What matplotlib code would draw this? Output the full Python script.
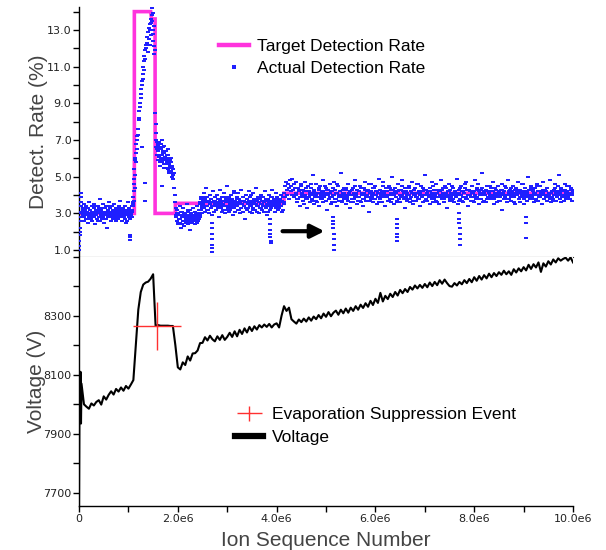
import numpy as np
import matplotlib
matplotlib.use('Agg')
import matplotlib.pyplot as plt
from matplotlib.lines import Line2D
from matplotlib.path import Path
from matplotlib.ticker import MultipleLocator, FuncFormatter

# ion sequence number in units of 1e6
# target detection rate (step line)
target_x = [0.0, 1.12, 1.12, 1.45, 1.47, 1.54, 1.54, 1.95, 1.95, 4.15, 4.15, 10.0]
target_y = [3.0, 3.0, 14.0, 14.0, 13.6, 13.6, 3.0, 3.0, 3.55, 3.55, 4.1, 4.1]

# actual detection rate, band segments: (x range, values)
start_rng = (0.0, 0.05)
start_rate = [1.0, 1.2, 1.5, 1.8, 2.0, 2.2, 2.6, 3.1, 3.9, 4.1, 3.4, 2.8, 3.6, 3.0]

base_rng = (0.06, 1.08)
base_rate = [3.1, 2.8, 3.3, 2.9, 3.5, 2.6, 3.0, 3.2, 2.7, 3.4,
             2.9, 3.1, 2.5, 3.3, 3.0, 2.8, 3.6, 2.9, 3.2, 2.7,
             3.0, 3.4, 2.6, 3.1, 2.9, 3.3, 2.8, 3.5, 3.0, 2.4,
             3.2, 2.9, 3.1, 2.7, 3.4, 3.0, 2.8, 3.3, 2.6, 3.1,
             3.8, 2.9, 3.2, 2.7, 3.0, 3.5, 2.8, 3.1, 2.5, 3.3,
             3.0, 2.9, 3.4, 2.7, 3.1, 2.2, 3.2, 2.8, 3.0, 3.6,
             2.9, 3.3, 2.6, 3.1, 2.8, 3.4, 3.0, 2.7, 3.2, 2.9,
             3.5, 2.8, 3.1, 2.6, 3.3, 3.0, 2.9, 3.2, 2.7, 3.4,
             3.0, 2.8, 3.1, 3.7, 2.9, 3.2, 2.6, 3.0, 3.3, 2.8,
             3.1, 2.9, 3.4, 2.7, 3.0, 3.2, 2.5, 3.1, 2.9, 3.6,
             3.0, 2.8, 3.3, 3.1, 2.7, 3.2, 3.0, 2.9, 3.4, 3.1]
base_rate_b = [3.0, 3.2, 2.8, 3.1, 2.9, 3.3, 2.7, 3.0, 3.2, 2.9,
               3.1, 2.8, 3.4, 3.0, 2.9, 3.2, 2.6, 3.1, 3.0, 2.8,
               3.3, 2.9, 3.1, 2.7, 3.0, 3.2, 2.9, 3.4, 2.8, 3.1,
               3.0, 2.7, 3.2, 2.9, 3.1, 3.0, 2.8, 3.3, 2.9, 3.0,
               3.2, 2.8, 3.0, 3.1, 2.6, 3.2, 2.9, 3.0, 3.1, 2.8]

rise_x = [1.08, 1.09, 1.09, 1.10, 1.10, 1.11, 1.11, 1.12, 1.12, 1.12, 1.13, 1.13, 1.13, 1.14,
          1.15, 1.15, 1.16, 1.17, 1.18, 1.18, 1.19, 1.20, 1.21, 1.22, 1.22, 1.23, 1.24, 1.25,
          1.26, 1.26, 1.27, 1.28, 1.29, 1.29, 1.30, 1.31, 1.31, 1.32, 1.34, 1.34, 1.35, 1.36,
          1.37, 1.38, 1.39, 1.40, 1.41, 1.42, 1.43, 1.44, 1.45, 1.46, 1.47, 1.47, 1.48, 1.49,
          1.50, 1.51, 1.52, 1.52, 1.33, 1.33, 1.27, 1.44, 1.46, 1.49, 1.50, 1.53]
rise_rate = [3.2, 3.6, 3.4, 3.9, 3.5, 4.2, 3.7, 4.6, 4.9, 5.4, 5.9, 4.4, 5.1, 6.0,
             6.3, 5.8, 6.8, 6.5, 7.2, 7.0, 7.6, 7.3, 8.1, 8.6, 8.2, 9.0, 8.8, 9.5,
             9.8, 9.3, 10.2, 10.0, 10.6, 10.3, 11.0, 11.3, 10.8, 11.6, 11.9, 11.4, 12.2, 12.0,
             12.6, 12.3, 11.8, 12.9, 13.1, 12.5, 13.3, 13.0, 13.6, 13.4, 13.8, 14.2, 13.5, 13.9,
             12.8, 13.2, 12.1, 11.7, 4.65, 3.7, 6.6, 12.2, 12.7, 13.0, 12.4, 11.9]

decay_x = [1.54, 1.55, 1.55, 1.56, 1.56, 1.57, 1.58, 1.59, 1.60, 1.61, 1.62, 1.63, 1.64, 1.65,
           1.66, 1.67, 1.68, 1.69, 1.70, 1.71, 1.72, 1.73, 1.74, 1.75, 1.76, 1.77, 1.78, 1.79,
           1.80, 1.81, 1.82, 1.83, 1.84, 1.85, 1.86, 1.87, 1.88, 1.89, 1.90, 1.91, 1.92, 1.93,
           1.94, 1.95, 1.96, 1.67]
decay_rate = [8.5, 7.9, 7.4, 7.0, 6.6, 6.9, 6.2, 6.7, 6.4, 6.9, 6.1, 6.6, 5.8, 6.5,
              6.8, 6.2, 5.9, 6.4, 6.0, 6.6, 5.7, 6.3, 5.9, 6.1, 5.5, 6.4, 5.8, 6.0,
              5.4, 6.2, 5.7, 5.2, 5.9, 5.5, 6.0, 5.3, 5.6, 5.0, 5.4, 4.9, 5.2, 4.4,
              4.0, 3.6, 3.3, 4.5]
decay_rng_b = (1.58, 1.90)
decay_rate_b = [6.5, 5.9, 6.8, 6.2, 5.6, 6.6, 6.0, 7.0, 5.8, 6.3,
                6.7, 5.5, 6.1, 6.4, 5.7, 6.2, 5.9, 6.5, 5.3, 6.0,
                5.6, 5.8, 5.2, 5.5, 5.1]

low_rng = (1.97, 2.45)
low_rate = [2.9, 2.6, 3.2, 2.4, 3.0, 2.7, 3.4, 2.5, 2.9, 2.2,
            3.1, 2.8, 2.6, 3.3, 2.3, 2.9, 3.0, 2.5, 2.7, 3.5,
            2.8, 2.4, 3.1, 2.6, 2.9, 2.1, 3.2, 2.7, 3.0, 2.5,
            2.8, 3.3, 2.6, 2.9, 2.4, 3.1, 2.7, 3.0, 2.5, 3.4,
            2.9, 2.6, 3.2, 2.8, 3.0]
low_rate_b = [2.8, 3.0, 2.5, 2.9, 2.7, 3.1, 2.4, 2.8, 3.0, 2.6,
              2.9, 2.7, 3.2, 2.5, 2.8, 3.0, 2.6, 2.9, 2.7, 3.1,
              2.8, 2.5, 3.0, 2.7, 2.9]

mid_rng = (2.45, 4.15)
mid_rate = [3.6, 3.2, 3.9, 3.4, 3.0, 3.7, 3.5, 4.1, 3.3, 3.8,
            3.1, 3.6, 4.4, 3.4, 3.9, 3.2, 3.7, 3.0, 3.5, 4.0,
            3.3, 3.8, 3.6, 2.9, 3.4, 4.2, 3.7, 3.1, 3.5, 3.9,
            3.2, 3.6, 4.0, 3.4, 3.8, 2.8, 3.5, 3.7, 4.3, 3.3,
            3.6, 3.1, 3.9, 3.5, 3.2, 4.1, 3.7, 3.4, 3.0, 3.8,
            3.6, 4.5, 3.3, 3.7, 3.1, 3.9, 3.5, 3.2, 4.0, 3.6,
            3.4, 3.8, 2.9, 3.5, 4.2, 3.3, 3.7, 3.1, 3.6, 3.9,
            3.4, 3.2, 4.1, 3.5, 3.8, 3.0, 3.6, 3.3, 4.3, 3.7,
            3.5, 3.1, 3.9, 3.4, 3.7, 2.7, 3.6, 4.0, 3.2, 3.8,
            3.5, 3.3, 4.2, 3.6, 3.1, 3.9, 3.4, 3.7, 3.0, 3.5,
            4.1, 3.3, 3.8, 3.6, 3.2, 4.4, 3.5, 3.7, 3.1, 3.9,
            3.4, 3.6, 3.0, 3.8, 3.3, 4.0, 3.5, 3.2, 3.7, 3.4,
            3.9, 3.1, 3.6, 4.2, 3.3, 3.7, 3.5, 2.9, 3.8, 3.4,
            3.6, 4.0, 3.2, 3.5, 3.9, 3.3, 3.7, 4.3, 3.4, 3.6,
            3.8, 3.1, 3.5, 4.1, 3.4, 3.9, 3.6, 3.2, 3.7, 3.5,
            3.3, 3.8, 3.6, 4.0, 3.4, 3.7, 3.1, 3.9, 3.5, 3.6]
mid_rate_b = [3.5, 3.8, 3.3, 3.6, 3.9, 3.4, 3.7, 3.2, 3.6, 3.5,
              3.8, 3.4, 3.6, 3.1, 3.7, 3.5, 4.0, 3.3, 3.6, 3.8,
              3.4, 3.7, 3.5, 3.9, 3.2, 3.6, 3.4, 3.8, 3.5, 3.7,
              3.3, 3.6, 4.1, 3.5, 3.4, 3.8, 3.6, 3.2, 3.7, 3.5,
              3.9, 3.4, 3.6, 3.3, 3.8, 3.5, 3.7, 3.4, 4.0, 3.6,
              3.2, 3.7, 3.5, 3.8, 3.4, 3.6, 3.9, 3.3, 3.5, 3.7,
              3.6, 3.4, 3.8, 3.5, 3.1, 3.7, 3.6, 3.4, 3.9, 3.5,
              3.7, 3.3, 3.6, 3.8, 3.5, 3.4, 3.7, 3.6, 3.2, 3.5]

bump_rng = (4.15, 4.40)
bump_rate = [4.1, 4.5, 3.9, 4.7, 4.3, 4.0, 4.6, 4.4, 3.8, 4.8,
             4.2, 4.5, 4.0, 4.9, 4.3, 4.6, 3.9, 4.4, 4.7, 4.1]

high_rng = (4.40, 10.0)
high_rate = [4.0, 3.6, 4.4, 3.8, 4.2, 3.4, 4.6, 3.9, 4.1, 3.7,
             4.3, 3.5, 4.0, 4.7, 3.8, 4.2, 3.3, 4.5, 3.9, 4.1,
             3.6, 4.4, 4.0, 3.8, 5.1, 4.2, 3.5, 4.0, 4.6, 3.7,
             4.1, 3.9, 4.3, 3.4, 4.5, 3.8, 4.0, 4.2, 3.6, 4.8,
             3.9, 4.1, 3.7, 4.4, 3.2, 4.0, 4.3, 3.8, 4.6, 4.1,
             3.5, 4.2, 3.9, 4.0, 4.7, 3.6, 4.3, 3.8, 4.1, 3.4,
             4.5, 4.0, 3.7, 4.2, 3.9, 5.2, 3.6, 4.1, 4.4, 3.8,
             4.0, 3.5, 4.3, 3.9, 4.6, 3.7, 4.1, 3.3, 4.2, 4.0,
             3.8, 4.4, 3.6, 4.1, 4.8, 3.9, 4.0, 3.5, 4.3, 3.7,
             4.2, 3.9, 4.5, 3.6, 4.0, 4.1, 3.4, 4.4, 3.8, 4.7,
             4.0, 3.7, 4.2, 3.9, 4.3, 3.1, 4.1, 4.6, 3.8, 4.0,
             3.6, 4.4, 4.0, 3.8, 4.5, 4.2, 3.5, 4.1, 3.9, 4.9,
             4.3, 3.8, 4.0, 3.6, 4.2, 4.7, 3.9, 4.1, 3.4, 4.4,
             3.9, 4.2, 3.7, 4.5, 4.0, 3.8, 4.3, 3.6, 5.0, 4.1,
             4.0, 3.5, 4.4, 3.9, 4.1, 3.7, 4.6, 4.2, 3.8, 4.0,
             3.6, 4.3, 4.0, 4.8, 3.9, 4.1, 3.3, 4.4, 4.2, 3.7,
             4.1, 3.8, 4.5, 4.0, 3.6, 4.2, 3.9, 4.7, 3.5, 4.3,
             4.0, 4.4, 3.7, 4.1, 3.9, 4.6, 3.8, 4.2, 4.0, 3.4,
             4.5, 3.9, 4.2, 3.6, 4.3, 4.0, 5.1, 3.8, 4.1, 3.7,
             4.2, 4.0, 3.5, 4.4, 3.9, 4.1, 4.7, 3.6, 4.3, 3.8,
             4.0, 3.7, 4.6, 4.1, 3.9, 4.3, 3.5, 4.2, 4.0, 4.8,
             3.8, 4.4, 4.0, 3.6, 4.5, 3.9, 4.1, 3.3, 4.2, 4.0,
             4.6, 3.8, 4.3, 3.9, 4.0, 3.7, 4.4, 4.1, 3.6, 4.2,
             3.9, 4.9, 4.0, 3.5, 4.3, 4.1, 3.8, 4.5, 4.0, 3.7,
             4.2, 3.6, 4.1, 4.4, 3.9, 4.7, 3.8, 4.0, 3.4, 4.3,
             4.0, 4.2, 3.7, 4.5, 3.9, 4.1, 3.6, 4.8, 4.0, 3.8,
             4.3, 3.9, 4.6, 3.5, 4.2, 4.0, 3.8, 4.4, 5.2, 4.1,
             3.7, 4.1, 4.0, 4.3, 3.6, 4.5, 3.9, 4.2, 3.8, 4.0,
             4.4, 3.8, 4.2, 3.9, 4.7, 3.5, 4.1, 4.0, 4.3, 3.6,
             4.0, 4.5, 3.7, 4.1, 3.9, 4.3, 3.2, 4.6, 4.0, 3.8,
             4.2, 3.9, 4.4, 4.0, 3.6, 4.8, 4.1, 3.8, 4.3, 3.9,
             3.7, 4.2, 4.0, 4.5, 3.9, 4.1, 3.5, 4.4, 4.0, 4.7,
             4.1, 3.8, 4.3, 3.6, 4.2, 4.0, 4.6, 3.9, 4.1, 3.5,
             4.4, 4.0, 3.7, 4.2, 5.0, 3.9, 4.3, 3.8, 4.5, 4.0,
             3.9, 4.3, 4.1, 3.6, 4.4, 4.0, 3.8, 4.6, 4.2, 3.7,
             4.0, 4.5, 3.9, 4.2, 3.5, 4.7, 4.1, 3.8, 4.3, 4.0,
             4.2, 3.7, 4.4, 4.0, 3.9, 4.1, 4.8, 3.6, 4.2, 3.9,
             3.8, 4.3, 4.0, 4.6, 3.7, 4.2, 3.9, 4.5, 4.0, 5.1,
             4.1, 3.6, 4.4, 3.9, 4.2, 4.0, 3.7, 4.3, 4.6, 3.8,
             4.0, 4.2, 3.9, 4.5, 3.8, 4.1, 4.4, 3.7, 4.3, 4.0]
high_rate_b = [4.1, 3.8, 4.3, 3.9, 4.5, 4.0, 3.7, 4.2, 3.9, 4.4,
               3.8, 4.2, 4.0, 4.6, 3.7, 4.1, 4.3, 3.9, 4.0, 3.6,
               4.4, 3.9, 4.1, 3.8, 4.2, 4.0, 4.5, 3.7, 4.3, 4.1,
               3.9, 4.2, 3.6, 4.4, 4.0, 3.8, 4.1, 4.6, 3.9, 4.2,
               4.0, 3.7, 4.3, 4.1, 3.9, 4.4, 3.8, 4.0, 4.2, 3.6,
               4.3, 4.0, 3.8, 4.5, 4.1, 3.9, 4.2, 3.7, 4.4, 4.0,
               3.8, 4.1, 4.3, 3.9, 4.0, 4.6, 3.7, 4.2, 3.9, 4.1,
               4.4, 3.8, 4.0, 4.2, 3.6, 4.3, 4.1, 3.9, 4.5, 4.0,
               3.9, 4.2, 4.0, 3.7, 4.4, 4.1, 3.8, 4.3, 4.0, 4.2,
               4.1, 3.6, 4.3, 4.0, 3.9, 4.5, 4.2, 3.8, 4.1, 3.9,
               4.0, 4.4, 3.8, 4.2, 4.1, 3.7, 4.3, 4.0, 3.9, 4.6,
               3.8, 4.1, 4.2, 3.9, 4.4, 4.0, 3.7, 4.3, 4.1, 3.9,
               4.2, 4.0, 3.8, 4.5, 3.9, 4.1, 4.3, 3.6, 4.2, 4.0,
               3.9, 4.3, 4.1, 3.8, 4.0, 4.4, 3.9, 4.2, 3.7, 4.1,
               4.5, 3.8, 4.0, 4.2, 3.9, 4.1, 3.7, 4.4, 4.0, 4.2,
               3.9, 4.1, 4.6, 3.8, 4.3, 4.0, 4.2, 3.9, 4.1, 3.7,
               4.2, 4.0, 3.9, 4.4, 3.8, 4.1, 4.3, 4.0, 3.6, 4.2,
               4.0, 4.3, 3.8, 4.1, 4.5, 3.9, 4.0, 4.2, 3.8, 4.4,
               4.1, 3.9, 4.2, 3.7, 4.0, 4.3, 4.1, 3.8, 4.5, 4.0,
               3.8, 4.2, 4.0, 4.4, 3.9, 4.1, 3.6, 4.3, 4.0, 4.2,
               4.3, 3.9, 4.1, 4.0, 4.6, 3.8, 4.2, 3.9, 4.1, 4.0,
               3.9, 4.4, 3.8, 4.2, 4.0, 4.1, 3.7, 4.5, 3.9, 4.2,
               4.1, 4.0, 4.3, 3.8, 4.2, 3.9, 4.4, 4.0, 3.8, 4.1,
               4.2, 3.7, 4.0, 4.4, 4.1, 3.9, 4.2, 3.8, 4.3, 4.0,
               4.0, 4.2, 3.9, 4.1, 4.5, 3.8, 4.0, 4.3, 4.1, 4.2]

# short dropouts of the detection rate
dip_x = [1.03, 1.03, 1.035,
         2.69, 2.69, 2.69, 2.695, 2.695, 2.70, 2.70,
         3.86, 3.86, 3.87, 3.87, 3.87, 3.88, 3.88,
         5.15, 5.15, 5.15, 5.15, 5.16, 5.16, 5.16, 5.16,
         6.43, 6.43, 6.43, 6.44, 6.44, 6.44,
         7.70, 7.70, 7.70, 7.71, 7.71, 7.71, 7.72,
         9.05, 9.05, 9.05]
dip_rate = [1.55, 1.7, 1.85,
            2.5, 2.2, 1.9, 1.6, 1.3, 1.1, 0.9,
            2.7, 2.4, 2.1, 1.9, 1.7, 1.5, 1.4,
            2.8, 2.6, 2.4, 2.2, 1.9, 1.6, 1.3, 1.0,
            2.7, 2.4, 2.2, 1.9, 1.7, 1.5,
            3.0, 2.7, 2.5, 2.2, 1.9, 1.6, 1.3,
            2.8, 2.5, 1.65]

# voltage
volt_start_x = [0.0, 0.005, 0.01, 0.02, 0.03, 0.04, 0.05]
volt_start = [7660, 7900, 8040, 7960, 8110, 7935, 8070]
volt_rng = (0.10, 10.0)
volt = [8000, 7992, 7985, 8003, 7996, 8008, 8014, 7999, 8027, 8016,
        8032, 8044, 8033, 8052, 8043, 8057, 8046, 8062, 8053, 8067,
        8082, 8200, 8320, 8380, 8405, 8412, 8415, 8425, 8440, 8265,
        8268, 8266, 8266, 8266, 8266, 8265, 8265, 8200, 8125, 8118,
        8142, 8133, 8162, 8148, 8172, 8173, 8182, 8207, 8208, 8227,
        8216, 8232, 8220, 8213, 8230, 8218, 8234, 8218, 8228, 8242,
        8228, 8247, 8230, 8252, 8238, 8257, 8243, 8262, 8248, 8264,
        8253, 8268, 8260, 8270, 8262, 8272, 8260, 8270, 8274, 8260,
        8300, 8332, 8316, 8327, 8288, 8280, 8273, 8287, 8278, 8290,
        8280, 8294, 8283, 8297, 8288, 8302, 8291, 8307, 8296, 8312,
        8298, 8310, 8317, 8303, 8320, 8308, 8324, 8310, 8327, 8316,
        8332, 8320, 8337, 8326, 8342, 8330, 8350, 8336, 8357, 8343,
        8377, 8348, 8367, 8356, 8374, 8363, 8380, 8368, 8387, 8376,
        8390, 8380, 8397, 8388, 8402, 8392, 8404, 8394, 8407, 8396,
        8412, 8400, 8414, 8403, 8420, 8408, 8422, 8410, 8400, 8398,
        8410, 8402, 8414, 8406, 8420, 8410, 8424, 8413, 8430, 8418,
        8434, 8422, 8437, 8426, 8442, 8430, 8444, 8434, 8447, 8438,
        8452, 8440, 8450, 8438, 8457, 8446, 8460, 8450, 8464, 8453,
        8472, 8458, 8474, 8463, 8480, 8448, 8477, 8466, 8484, 8473,
        8490, 8480, 8494, 8486, 8492, 8496, 8486, 8497, 8480]

event_x = [1.57]
event_v = [8264]

# build the scatter series
rate_x = []
rate_y = []
for rng, vals in [(start_rng, start_rate), (base_rng, base_rate), (base_rng, base_rate_b),
                  (low_rng, low_rate), (low_rng, low_rate_b), (mid_rng, mid_rate),
                  (mid_rng, mid_rate_b), (bump_rng, bump_rate), (high_rng, high_rate),
                  (high_rng, high_rate_b), (decay_rng_b, decay_rate_b)]:
    rate_x.extend(np.linspace(rng[0], rng[1], len(vals)))
    rate_y.extend(vals)
rate_x += rise_x + decay_x + dip_x
rate_y += rise_rate + decay_rate + dip_rate

volt_x = list(volt_start_x) + list(np.linspace(volt_rng[0], volt_rng[1], len(volt)))
volt_y = list(volt_start) + volt

blue = '#1f1fff'
pink = '#ff33dd'
label_font = 'Liberation Sans'
dash = Path([(-1, -0.6), (1, -0.6), (1, 0.6), (-1, 0.6), (-1, -0.6)])

fig = plt.figure(figsize=(6.06, 5.5), dpi=100)
ax1 = fig.add_axes([0.1304, 0.5336, 0.8152, 0.4536])
ax2 = fig.add_axes([0.1304, 0.08, 0.8152, 0.4536])

# top: detection rate
ax1.plot(target_x, target_y, color=pink, lw=2.6, zorder=2, solid_joinstyle='miter')
ax1.plot(rate_x, rate_y, ls='none', marker=dash, ms=3.4, mew=0, color=blue, zorder=3)
ax1.annotate('', xy=(4.97, 2.03), xytext=(4.12, 2.03),
             arrowprops=dict(arrowstyle='-|>', color='black', lw=3.0, mutation_scale=20,
                             shrinkA=0, shrinkB=0))
ax1.set_xlim(0, 10)
ax1.set_ylim(0.65, 14.25)
ax1.set_xticks([])
ax1.set_yticks([1, 3, 5, 7, 9, 11, 13])
ax1.yaxis.set_minor_locator(MultipleLocator(1.0))
ax1.yaxis.set_major_formatter(FuncFormatter(lambda v, p: '%.1f' % v))
ax1.set_ylabel('Detect. Rate (%)', fontsize=15, family=label_font, color='#444444', labelpad=-1)

# bottom: voltage
ax2.plot(volt_x, volt_y, color='black', lw=1.5, zorder=3)
ax2.plot(event_x, event_v, ls='none', marker='+', ms=34, mew=1.0, color='#ff3030', zorder=4)
ax2.set_xlim(0, 10)
ax2.set_ylim(7656, 8500)
ax2.set_yticks([7700, 7900, 8100, 8300])
ax2.yaxis.set_minor_locator(MultipleLocator(100))
ax2.set_xticks([0, 2, 4, 6, 8, 10])
ax2.xaxis.set_minor_locator(MultipleLocator(1))
ax2.xaxis.set_major_formatter(FuncFormatter(lambda v, p: '0' if v == 0 else '%.1fe6' % v))
ax2.set_ylabel('Voltage (V)', fontsize=15, family=label_font, color='#444444', labelpad=-2)
ax2.set_xlabel('Ion Sequence Number', fontsize=15, family=label_font, color='#444444', labelpad=5)

for ax in (ax1, ax2):
    ax.spines['top'].set_visible(False)
    ax.spines['right'].set_visible(False)
    ax.spines['left'].set_linewidth(1.0)
    ax.spines['bottom'].set_linewidth(1.0)
    ax.tick_params(which='both', direction='out', length=4, width=1.0, labelsize=8,
                   labelcolor='#222222', pad=1.5)
    for t in ax.get_yticklabels() + ax.get_xticklabels():
        t.set_family('DejaVu Sans')
ax1.spines['bottom'].set_color('#333333')
ax1.spines['bottom'].set_linewidth(0.8)

# legends
h1 = [Line2D([], [], color=pink, lw=3.2),
      Line2D([], [], ls='none', marker='s', ms=2.3, mew=0, color=blue)]
ax1.legend(h1, ['Target Detection Rate', 'Actual Detection Rate'],
           loc='upper left', bbox_to_anchor=(219 / 606, 1 - 39 / 550),
           bbox_transform=fig.transFigure, frameon=False, borderpad=0,
           borderaxespad=0, handlelength=1.75, handletextpad=0.45,
           labelspacing=0.37, prop={'family': label_font, 'size': 12.5})

plus_path = Path([(-1, 0), (1, 0), (0, -0.6), (0, 0.6)],
                 [Path.MOVETO, Path.LINETO, Path.MOVETO, Path.LINETO])
h2 = [Line2D([], [], ls='none', marker=plus_path, ms=18, mew=1.0, color='#ff3030'),
      Line2D([], [], color='black', lw=4.5)]
ax2.legend(h2, ['Evaporation Suppression Event', 'Voltage'],
           loc='upper left', bbox_to_anchor=(235 / 606, 1 - 407 / 550),
           bbox_transform=fig.transFigure, frameon=False, borderpad=0,
           borderaxespad=0, handlelength=1.6, handletextpad=0.55,
           labelspacing=0.42, prop={'family': label_font, 'size': 12.5})

fig.savefig('out.png', dpi=100)
